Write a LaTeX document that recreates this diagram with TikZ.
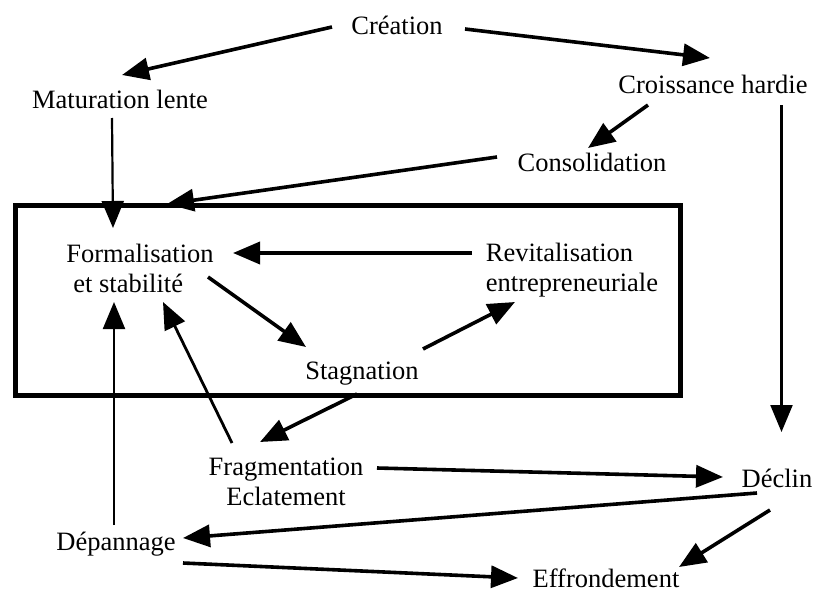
\documentclass[tikz,border=0pt]{standalone}
\usepackage{fontspec}
\setmainfont{Liberation Serif}
\usetikzlibrary{arrows.meta,calc}
\begin{document}
\begin{tikzpicture}[x=1pt,y=-1pt,
  lbl/.style={inner sep=0pt, font=\fontsize{26.5}{30}\selectfont},
  tip/.style={-{Triangle[length=27pt,width=22pt]}},
  flow/.style={tip, line width=3.6pt},
  slim/.style={tip, line width=2.2pt},
  frame/.style={draw, line width=5pt, inner sep=0pt, outer sep=0pt,
                minimum width=665pt, minimum height=190pt}]
\useasboundingbox (0,0) rectangle (813,594);

% stages
\node[lbl, anchor=base] (crea)  at (397,35)  {Création};
\node[lbl, anchor=base] (mat)   at (120,108) {Maturation lente};
\node[lbl, anchor=base] (crois) at (713,93)  {Croissance hardie};
\node[lbl, anchor=base] (conso) at (592,171) {Consolidation};
\node[lbl, align=left]  (form)  at (140,268) {Formalisation\\\hspace*{7pt}et stabilité};
\node[lbl, align=left]  (revit) at (572,270) {Revitalisation\\entrepreneuriale};
\node[lbl, anchor=base] (stag)  at (362,379) {Stagnation};
\node[lbl, align=center](frag)  at (286,482) {Fragmentation\\Eclatement};
\node[lbl, anchor=base] (decl)  at (777,487) {Déclin};
\node[lbl, anchor=base] (dep)   at (116,550) {Dépannage};
\node[lbl, anchor=base] (effr)  at (606,587) {Effrondement};

% stable cycle frame
\node[frame] (cadre) at (347.5,300.5) {};

% transitions
\draw[flow] ($(crea.base)+(-65,-8)$) -- ($(mat.base)+(2,-33)$);
\draw[flow] ($(crea.base)+(68,-6)$) -- ($(crois.base)+(-3,-35)$);
\draw[flow] ($(crois.base)+(-65,12)$) -- ($(conso.base)+(-4,-23)$);
\draw[flow] ($(conso.base)+(-95,-14)$) -- ($(cadre.north west)+(152,-1.5)$);
\draw[slim] ($(mat.base)+(-8,10)$) -- ($(form.center)+(-27,-40)$);
\draw[flow] ($(revit.center)+(-100,-17)$) -- ($(form.center)+(93,-15)$);
\draw[flow] ($(form.center)+(68,9)$) -- ($(stag.base)+(-56,-32)$);
\draw[flow] ($(stag.base)+(61,-30)$) -- ($(revit.center)+(-57,32)$);
\draw[flow] ($(stag.base)+(-5,15)$) -- ($(frag.center)+(-26,-40)$);
\draw[flow, line width=2.8pt] ($(frag.center)+(-54,-39)$) -- ($(form.center)+(23,34)$);
\draw[slim] ($(dep.base)+(-2,-25)$) -- ($(form.center)+(-26,34)$);
\draw[flow] ($(frag.center)+(91,-14)$) -- ($(decl.base)+(-54,-10)$);
\draw[slim] ($(crois.base)+(68.5,12)$) -- ($(decl.base)+(4.5,-55)$);
\draw[flow] ($(decl.base)+(-20,6)$) -- ($(dep.base)+(67,-12)$);
\draw[flow] ($(decl.base)+(-7,23)$) -- ($(effr.base)+(73,-20)$);
\draw[flow] ($(dep.base)+(67,13)$) -- ($(effr.base)+(-88,-9)$);
\end{tikzpicture}
\end{document}
